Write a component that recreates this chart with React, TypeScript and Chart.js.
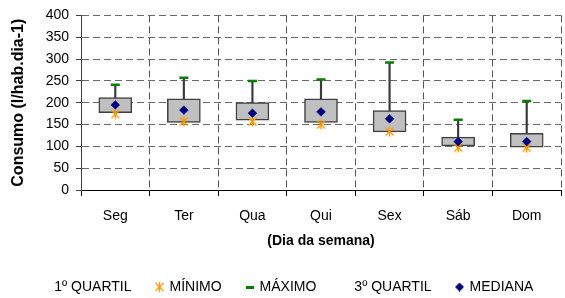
import React, { useEffect, useRef } from 'react';
import { Chart, registerables } from 'chart.js';

Chart.register(...registerables);

const categories = ['Seg', 'Ter', 'Qua', 'Qui', 'Sex', 'Sáb', 'Dom'];
const quartil1 = [177, 155, 160, 155, 133, 101, 98];
const quartil3 = [212, 209, 200, 209, 182, 121, 130];
const mediana = [195, 183, 176, 179, 163, 111, 111];
const minimo = [174, 157, 157, 150, 134, 97, 97];
const maximo = [241, 257, 250, 253, 292, 161, 204];
const legendLabels = ['1º QUARTIL', 'MÍNIMO', 'MÁXIMO', '3º QUARTIL', 'MEDIANA'];
const yTitle = 'Consumo (l/hab.dia-1)';
const xTitle = '(Dia da semana)';

const FONT = '"Liberation Sans", Arial, sans-serif';
const ORANGE = '#FF9900';
const GREEN = '#008000';
const NAVY = '#000080';

function makeCanvas(w: number, h: number, draw: (ctx: CanvasRenderingContext2D) => void) {
  const c = document.createElement('canvas');
  c.width = w;
  c.height = h;
  const ctx = c.getContext('2d')!;
  draw(ctx);
  return c;
}

export default function App() {
  const ref = useRef<HTMLCanvasElement>(null);

  useEffect(() => {
    const starImg = makeCanvas(11, 11, (ctx) => {
      ctx.strokeStyle = ORANGE;
      ctx.lineWidth = 1.4;
      ctx.beginPath();
      ctx.moveTo(1.5, 1.5);
      ctx.lineTo(9.5, 9.5);
      ctx.moveTo(9.5, 1.5);
      ctx.lineTo(1.5, 9.5);
      ctx.moveTo(5.5, 0.5);
      ctx.lineTo(5.5, 10.5);
      ctx.stroke();
    });
    const blankImg = makeCanvas(1, 1, () => {});
    const dashImg = makeCanvas(8, 3, (ctx) => {
      ctx.fillStyle = GREEN;
      ctx.fillRect(0, 0, 8, 3);
    });
    const diamondImg = makeCanvas(9, 9, (ctx) => {
      ctx.fillStyle = NAVY;
      ctx.beginPath();
      ctx.moveTo(4.5, 0);
      ctx.lineTo(9, 4.5);
      ctx.lineTo(4.5, 9);
      ctx.lineTo(0, 4.5);
      ctx.closePath();
      ctx.fill();
    });
    const legendImgs = [blankImg, starImg, dashImg, blankImg, diamondImg];

    const chart = new Chart(ref.current!, {
      type: 'bar',
      data: {
        labels: categories,
        datasets: [
          {
            type: 'line',
            label: 'MEDIANA',
            data: mediana,
            showLine: false,
            pointStyle: 'rectRot',
            pointRadius: 4.4,
            pointBackgroundColor: NAVY,
            pointBorderColor: NAVY,
            pointBorderWidth: 0.5,
            order: 0,
          } as any,
          {
            type: 'line',
            label: 'MÍNIMO',
            data: minimo,
            showLine: false,
            pointStyle: starImg,
            pointRadius: 5,
            order: 1,
          } as any,
          {
            type: 'line',
            label: 'MÁXIMO',
            data: maximo,
            showLine: false,
            pointStyle: 'line',
            pointRadius: 4.5,
            pointBorderColor: GREEN,
            pointBackgroundColor: GREEN,
            pointBorderWidth: 2.5,
            order: 2,
          } as any,
          {
            type: 'bar',
            label: 'QUARTIS',
            data: quartil1.map((q, i) => [q, quartil3[i]]),
            backgroundColor: '#C0C0C0',
            borderColor: '#404040',
            borderWidth: 1.5,
            borderSkipped: false,
            barThickness: 33,
            grouped: false,
            order: 3,
          } as any,
          {
            type: 'bar',
            label: 'LINHA',
            data: minimo.map((m, i) => [m, maximo[i]]),
            backgroundColor: '#3a3a3a',
            borderWidth: 0,
            barThickness: 1.5,
            grouped: false,
            order: 4,
          } as any,
        ],
      },
      options: {
        animation: false,
        responsive: false,
        events: [],
        layout: { padding: { left: 6.6, top: 14, right: 0, bottom: 0 } },
        plugins: {
          tooltip: { enabled: false },
          legend: {
            position: 'bottom',
            labels: {
              usePointStyle: true,
              boxWidth: 6,
              boxHeight: 6,
              padding: 25,
              color: '#000',
              font: { family: FONT, size: 14 },
              generateLabels: () =>
                legendLabels.map((t, i) => ({
                  text: t,
                  pointStyle: legendImgs[i] as any,
                  fillStyle: 'transparent',
                  strokeStyle: 'transparent',
                  lineWidth: 0,
                  hidden: false,
                  fontColor: '#000',
                })),
            },
          },
        },
        scales: {
          x: {
            type: 'category',
            offset: true,
            grid: {
              offset: true,
              color: (c: any) => (c.index === 0 ? 'transparent' : '#555555'),
              lineWidth: 1,
              tickLength: 6,
              tickColor: '#000',
              tickWidth: 1,
            },
            border: { display: true, color: '#000', width: 1, dash: [7, 4] },
            ticks: {
              padding: 11.6,
              color: '#000',
              font: { family: FONT, size: 14 },
              maxRotation: 0,
              autoSkip: false,
            },
            title: {
              display: true,
              text: xTitle,
              color: '#000',
              font: { family: FONT, size: 14, weight: 'bold' },
              padding: { top: 0, bottom: 5.6 },
            },
            afterFit: (s: any) => {
              s.height = 65;
            },
          } as any,
          y: {
            min: 0,
            max: 400,
            grid: {
              color: (c: any) => (c.index === 0 ? 'transparent' : '#6a6a6a'),
              lineWidth: 1,
              tickLength: 5,
              tickColor: '#404040',
            },
            border: { display: true, color: '#404040', width: 1, dash: [7, 4] },
            ticks: {
              stepSize: 50,
              padding: 7,
              color: '#000',
              font: { family: FONT, size: 14 },
            },
            title: {
              display: true,
              text: yTitle,
              color: '#000',
              font: { family: FONT, size: 16, weight: 'bold' },
              padding: { top: 2.8, bottom: 0 },
            },
            afterFit: (s: any) => {
              s.width = 74.4;
            },
          } as any,
        },
      },
    });
    return () => chart.destroy();
  }, []);

  return (
    <div style={{ position: 'fixed', left: 0, top: 0, width: 568, height: 304 }}>
      <canvas ref={ref} width={568} height={304} style={{ display: 'block', width: 568, height: 304 }} />
    </div>
  );
}
